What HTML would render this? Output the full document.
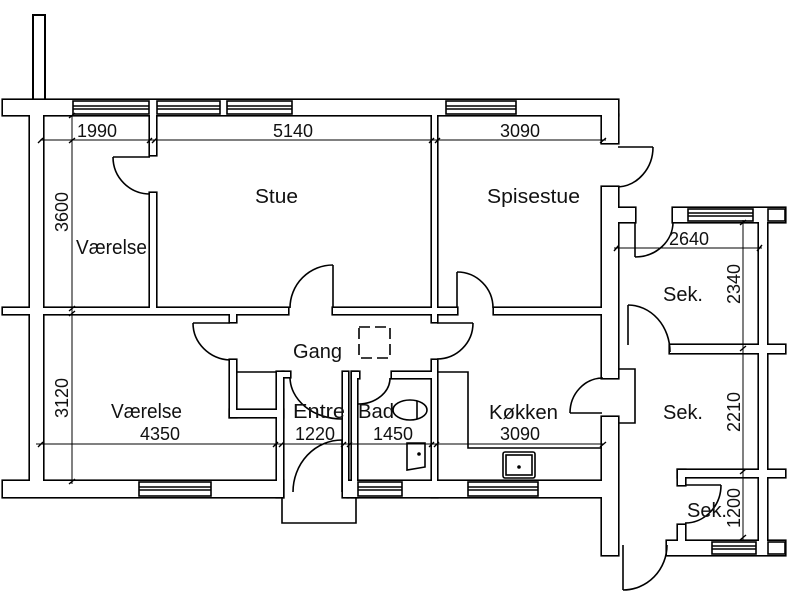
<!DOCTYPE html>
<html><head><meta charset="utf-8"><style>
html,body{margin:0;padding:0;background:#fff;}
svg{display:block;}
text{font-family:"Liberation Sans",sans-serif;font-size:20px;fill:#111;}
.d{font-size:18px;}
</style></head><body>
<svg width="800" height="593" viewBox="0 0 800 593" xmlns="http://www.w3.org/2000/svg">
<defs>
<g id="walls">
<rect x="3" y="100" width="615" height="15"/>
<rect x="602" y="115" width="16" height="28"/>
<rect x="30" y="115" width="13" height="366"/>
<rect x="3" y="308" width="27" height="6"/>
<rect x="43" y="308" width="245" height="6"/>
<rect x="333" y="308" width="99" height="6"/>
<rect x="437" y="308" width="20" height="6"/>
<rect x="494" y="308" width="108" height="6"/>
<rect x="150" y="115" width="6" height="40"/>
<rect x="150" y="193" width="6" height="115"/>
<rect x="432" y="115" width="5" height="207"/>
<rect x="230" y="314" width="6" height="8"/>
<rect x="230" y="360" width="6" height="57"/>
<rect x="230" y="410" width="53" height="7"/>
<rect x="277" y="372" width="6" height="125"/>
<rect x="283" y="372" width="7" height="5"/>
<rect x="343" y="372" width="5" height="125"/>
<rect x="352" y="372" width="5" height="125"/>
<rect x="352" y="372" width="7" height="6"/>
<rect x="392" y="372" width="40" height="6"/>
<rect x="432" y="360" width="5" height="137"/>
<rect x="3" y="481" width="280" height="16"/>
<rect x="348" y="481" width="254" height="16"/>
<rect x="602" y="187" width="16" height="191"/>
<rect x="618" y="208" width="17" height="14"/>
<rect x="602" y="417" width="16" height="138"/>
<rect x="673" y="208" width="112" height="14"/>
<rect x="759" y="222" width="8" height="319"/>
<rect x="670" y="345" width="89" height="8"/>
<rect x="767" y="345" width="18" height="8"/>
<rect x="678" y="470" width="81" height="7"/>
<rect x="678" y="470" width="7" height="15"/>
<rect x="678" y="525" width="7" height="16"/>
<rect x="767" y="470" width="18" height="7"/>
<rect x="667" y="541" width="118" height="14"/>
</g>
</defs>
<rect x="33" y="15" width="12" height="86" fill="#fff" stroke="#000" stroke-width="2"/>
<use href="#walls" fill="#000" stroke="#000" stroke-width="3.2"/>
<use href="#walls" fill="#fff" stroke="none"/>
<g fill="none" stroke="#000" stroke-width="1.6">
<rect x="73" y="101" width="76" height="13"/><line x1="73" y1="106" x2="149" y2="106"/><line x1="73" y1="109" x2="149" y2="109"/>
<rect x="157" y="101" width="63" height="13"/><line x1="157" y1="106" x2="220" y2="106"/><line x1="157" y1="109" x2="220" y2="109"/>
<rect x="227" y="101" width="65" height="13"/><line x1="227" y1="106" x2="292" y2="106"/><line x1="227" y1="109" x2="292" y2="109"/>
<rect x="446" y="101" width="70" height="13"/><line x1="446" y1="106" x2="516" y2="106"/><line x1="446" y1="109" x2="516" y2="109"/>
<rect x="688" y="209" width="65" height="12"/><line x1="688" y1="213" x2="753" y2="213"/><line x1="688" y1="216" x2="753" y2="216"/>
<rect x="768" y="209" width="17" height="12"/>
<rect x="139" y="482" width="72" height="14"/><line x1="139" y1="487" x2="211" y2="487"/><line x1="139" y1="490" x2="211" y2="490"/>
<rect x="358" y="482" width="44" height="14"/><line x1="358" y1="487" x2="402" y2="487"/><line x1="358" y1="490" x2="402" y2="490"/>
<rect x="468" y="482" width="70" height="14"/><line x1="468" y1="487" x2="538" y2="487"/><line x1="468" y1="490" x2="538" y2="490"/>
<rect x="712" y="542" width="44" height="12"/><line x1="712" y1="546" x2="756" y2="546"/><line x1="712" y1="549" x2="756" y2="549"/>
<rect x="768" y="542" width="17" height="12"/>
<path d="M113,157 L150,157"/><path d="M113,157 A37,37 0 0 0 150,194"/>
<path d="M333,265 L333,308"/><path d="M290,308 A43,43 0 0 1 333,265"/>
<path d="M457,272 L457,308"/><path d="M457,272 A36,36 0 0 1 493,308"/>
<path d="M618,147 L653,147"/><path d="M653,147 A37,40 0 0 1 618,187"/>
<path d="M193,323 L230,323"/><path d="M193,323 A39,37 0 0 0 230,360"/>
<path d="M437,323 L473,323"/><path d="M473,323 A36,36 0 0 1 437,359"/>
<path d="M290,377 A52,42 0 0 0 342,419"/>
<path d="M390,378 A32,26 0 0 1 358,404"/>
<path d="M342,440 L342,492"/><path d="M293,492 A49,52 0 0 1 342,440"/>
<path d="M570,413 L602,413"/><path d="M570,413 A33,35 0 0 1 603,378"/>
<path d="M623,545 L623,590"/><path d="M623,590 A44,45 0 0 0 667,545"/>
<path d="M635,222 L635,257"/><path d="M635,257 A38,35 0 0 0 673,222"/>
<path d="M628,305 L628,345"/><path d="M628,305 A42,47 0 0 1 670,352"/>
<path d="M685,485 L721,485"/><path d="M721,485 A36,38 0 0 1 685,523"/>
<path d="M282,497 L282,523 L356,523 L356,497"/>
<path d="M618,369 L635,369 L635,423 L618,423"/>
<line x1="236" y1="372" x2="277" y2="372"/>
<path d="M437,372 L468,372 L468,448 L602,448"/>
<rect x="503" y="452" width="32" height="26" rx="2"/><rect x="506" y="455" width="26" height="20"/>
<path d="M407,443 L425,443 L425,467 L407,470 Z"/>
<ellipse cx="410" cy="410" rx="17" ry="10"/><line x1="417" y1="401" x2="417" y2="419"/>
<rect x="359" y="327" width="31" height="31" stroke-dasharray="11,5"/>
</g>
<circle cx="419" cy="454" r="1.8"/><circle cx="519" cy="467" r="1.8"/>
<g fill="none" stroke="#000" stroke-width="1">
<line x1="40" y1="140" x2="606" y2="140"/>
<line x1="72" y1="115" x2="72" y2="484"/>
<line x1="36" y1="444" x2="604" y2="444"/>
<line x1="614" y1="248" x2="762" y2="248"/>
<line x1="743" y1="220" x2="743" y2="540"/>
<g stroke-width="1.4">
<path d="M38,143 l5,-5 M69,118 l6,-5 M69,143 l6,-5 M147,143 l5,-5 M152,143 l5,-5 M429,143 l5,-5 M435,143 l5,-5 M600,143 l6,-5"/>
<path d="M69,311 l6,-5 M69,316 l6,-5 M69,484 l6,-5"/>
<path d="M38,447 l5,-5 M273,447 l5,-5 M279,447 l5,-5 M341,447 l5,-5 M347,447 l5,-5 M429,447 l5,-5 M434,447 l5,-5 M600,447 l6,-5"/>
<path d="M614,251 l5,-6 M757,251 l5,-6 M740,225 l6,-5 M740,351 l6,-5 M740,474 l6,-5 M740,540 l6,-5"/>
</g>
</g>
<text x="77" y="137" class="d" textLength="40" lengthAdjust="spacingAndGlyphs">1990</text>
<text x="273" y="137" class="d" textLength="40" lengthAdjust="spacingAndGlyphs">5140</text>
<text x="500" y="137" class="d" textLength="40" lengthAdjust="spacingAndGlyphs">3090</text>
<text x="140" y="440" class="d" textLength="40" lengthAdjust="spacingAndGlyphs">4350</text>
<text x="295" y="440" class="d" textLength="40" lengthAdjust="spacingAndGlyphs">1220</text>
<text x="373" y="440" class="d" textLength="40" lengthAdjust="spacingAndGlyphs">1450</text>
<text x="500" y="440" class="d" textLength="40" lengthAdjust="spacingAndGlyphs">3090</text>
<text x="669" y="245" class="d" textLength="40" lengthAdjust="spacingAndGlyphs">2640</text>
<text class="d" transform="translate(68,232) rotate(-90)" textLength="40" lengthAdjust="spacingAndGlyphs">3600</text>
<text class="d" transform="translate(68,418) rotate(-90)" textLength="40" lengthAdjust="spacingAndGlyphs">3120</text>
<text class="d" transform="translate(740,304) rotate(-90)" textLength="40" lengthAdjust="spacingAndGlyphs">2340</text>
<text class="d" transform="translate(740,432) rotate(-90)" textLength="40" lengthAdjust="spacingAndGlyphs">2210</text>
<text class="d" transform="translate(740,528) rotate(-90)" textLength="40" lengthAdjust="spacingAndGlyphs">1200</text>
<text x="255" y="203" textLength="43" lengthAdjust="spacingAndGlyphs">Stue</text>
<text x="76" y="254" textLength="71" lengthAdjust="spacingAndGlyphs">Værelse</text>
<text x="487" y="203" textLength="93" lengthAdjust="spacingAndGlyphs">Spisestue</text>
<text x="293" y="358" textLength="49" lengthAdjust="spacingAndGlyphs">Gang</text>
<text x="111" y="418" textLength="71" lengthAdjust="spacingAndGlyphs">Værelse</text>
<text x="293" y="418" textLength="52" lengthAdjust="spacingAndGlyphs">Entre</text>
<text x="358" y="418" textLength="36" lengthAdjust="spacingAndGlyphs">Bad</text>
<text x="489" y="419" textLength="69" lengthAdjust="spacingAndGlyphs">Køkken</text>
<text x="663" y="301" textLength="40" lengthAdjust="spacingAndGlyphs">Sek.</text>
<text x="663" y="419" textLength="40" lengthAdjust="spacingAndGlyphs">Sek.</text>
<text x="687" y="517" textLength="40" lengthAdjust="spacingAndGlyphs">Sek.</text>
</svg>
</body></html>
